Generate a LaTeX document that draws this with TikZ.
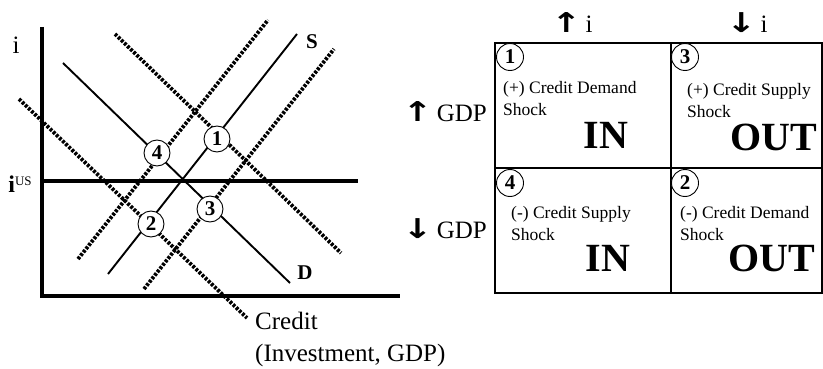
\documentclass[tikz,border=0pt]{standalone}
\usepackage{fontspec}
\setmainfont{Liberation Serif}
\newfontfamily\arrowfont{DejaVu Sans}
\usetikzlibrary{positioning}
\tikzset{
  axis/.style     ={line width=3.2pt},
  sched/.style    ={line width=1.9pt},
  movedsched/.style={line width=3.8pt, dash pattern=on 2.8pt off 1.5pt},
  eqpt/.style     ={circle, draw, fill=white, line width=0.9pt, inner sep=0pt,
                    minimum size=26pt, font=\fontsize{21}{21}\selectfont\bfseries},
  cell/.style     ={draw, line width=1.2pt, outer sep=0pt, inner sep=0pt,
                    minimum height=125pt, anchor=north west},
  celltxt/.style  ={font=\fontsize{17.5}{22}\selectfont, align=left,
                    inner sep=0pt, anchor=west},
  verdict/.style  ={font=\fontsize{40}{40}\selectfont\bfseries, inner sep=0pt},
  axlbl/.style    ={font=\fontsize{25}{32}\selectfont, inner sep=0pt},
  schedlbl/.style ={font=\fontsize{21}{21}\selectfont\bfseries, inner sep=0pt},
}
\newcommand{\uparr}{\scalebox{1.7}[1.3]{\fontsize{21}{21}\arrowfont\bfseries ↑}}
\newcommand{\dnarr}{\scalebox{1.7}[1.3]{\fontsize{21}{21}\arrowfont\bfseries ↓}}

\begin{document}
\begin{tikzpicture}[x=1pt, y=-1pt]
\useasboundingbox (0,0) rectangle (823,369);

% ---------------------------------------------------------------- axes
\coordinate (ytop) at (42,27);
\coordinate (orig) at (42,296);
\coordinate (xend) at (400,296);
\draw[axis] (ytop) -- (orig) -- (xend);
\node[axlbl] (ilbl) at (16,45) {i};

\coordinate (ius0) at (43,181);
\coordinate (ius1) at (358,181);
\draw[axis] (ius0) -- (ius1);
\node[inner sep=0pt, font=\fontsize{24}{24}\selectfont] (iuslbl) at (20,184)
  {\textbf{i}\raisebox{6.5pt}{\fontsize{13}{13}\selectfont US}};

\node[axlbl, align=left, anchor=west] (credit) at (255,339) {Credit\\(Investment, GDP)};

% ---------------------------------------------------------------- schedules
\coordinate (d0) at (63,63);     \coordinate (d1) at (290,283);
\coordinate (s0) at (108,274);   \coordinate (s1) at (297,34);
\coordinate (dup0) at (115,34);  \coordinate (dup1) at (341,253);
\coordinate (ddn0) at (19,99);   \coordinate (ddn1) at (247,318);
\coordinate (sdn0) at (78,259);  \coordinate (sdn1) at (268,20);
\coordinate (sup0) at (144,289); \coordinate (sup1) at (334,49);

\draw[movedsched] (dup0) -- (dup1);
\draw[movedsched] (ddn0) -- (ddn1);
\draw[movedsched] (sdn0) -- (sdn1);
\draw[movedsched] (sup0) -- (sup1);
\draw[sched] (d0) -- (d1);
\draw[sched] (s0) -- (s1);

\node[schedlbl] (slbl) at (312,42) {S};
\node[schedlbl] (dlbl) at (305,273) {D};

% ---------------------------------------------------------------- equilibria
\node[eqpt] (e1) at (217,139) {1};
\node[eqpt] (e4) at (157,153) {4};
\node[eqpt] (e3) at (210,209) {3};
\node[eqpt] (e2) at (151,224) {2};

% ---------------------------------------------------------------- table
\node[cell, minimum width=176pt] (c1) at (495,43) {};
\node[cell, minimum width=151pt] (c3) at (c1.north east) {};
\node[cell, minimum width=176pt] (c4) at (c1.south west) {};
\node[cell, minimum width=151pt] (c2) at (c4.north east) {};

\node[axlbl] (hup) at (572,23) {\uparr\,i};
\node[axlbl] (hdn) at (747,23) {\dnarr\,i};
\node[axlbl, anchor=east] (gup) at (487,112) {\uparr\,GDP};
\node[axlbl, anchor=east] (gdn) at (487,229) {\dnarr\,GDP};

\node[eqpt, minimum size=27pt] (n1) at (510,57) {1};
\node[eqpt, minimum size=27pt] (n3) at (685,57) {3};
\node[eqpt, minimum size=27pt] (n4) at (510,183) {4};
\node[eqpt, minimum size=27pt] (n2) at (685,183) {2};

\node[celltxt] (t1) at (503,99) {(+) Credit Demand\\Shock};
\node[celltxt] (t3) at (687,101) {(+) Credit Supply\\Shock};
\node[celltxt] (t4) at (511,224) {(-) Credit Supply\\Shock};
\node[celltxt] (t2) at (680,224) {(-) Credit Demand\\Shock};

\node[verdict] (v1) at (606,135) {IN};
\node[verdict] (v3) at (774,137) {OUT};
\node[verdict] (v4) at (608,258) {IN};
\node[verdict] (v2) at (772,258) {OUT};

\end{tikzpicture}
\end{document}
